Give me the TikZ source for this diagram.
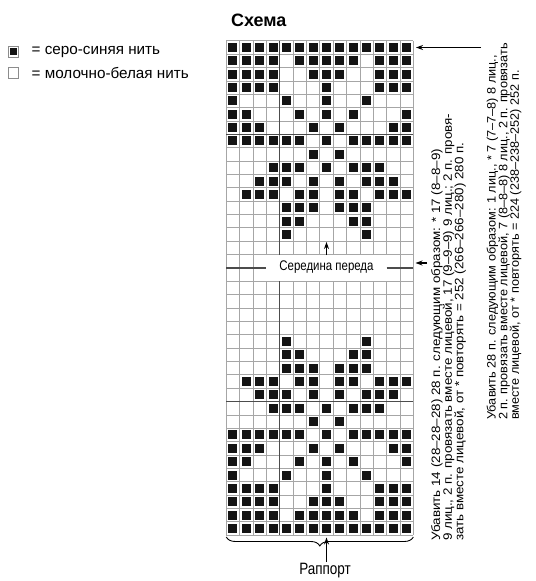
\documentclass[tikz,border=0pt]{standalone}
\usepackage{fontspec}
\setmainfont{Liberation Sans}
\newfontfamily\condfont[FakeStretch=0.82]{Liberation Sans}
\newfontfamily\notefont[FakeStretch=1.1]{Liberation Sans}
\newfontfamily\notefontb[FakeStretch=1.045]{Liberation Sans}
\usetikzlibrary{decorations.pathreplacing,arrows.meta,calc}
\tikzset{
  gridline/.style={draw=black!35, line width=0.7},
  thickline/.style={draw=black!70, line width=1.4},
  stitch/.style={fill=black!92},
  pointer/.style={line width=1.1, -{Stealth[length=7,width=5]}},
  rottext/.style={rotate=90, anchor=north west, inner sep=0, align=left,
     font=\notefont\fontsize{12.2}{11.7}\selectfont},
  rottextb/.style={rottext, font=\notefontb\fontsize{12.2}{11.7}\selectfont},
}
\begin{document}
\begin{tikzpicture}[x=1bp,y=-1bp]
\useasboundingbox (0,0) rectangle (536,581);
\def\gx{226.3}\def\gy{40.8}\def\cs{13.36}
% stitches
\foreach \r/\cl in {
 1/{1,2,3,4,5,6,7,8,9,10,11,12,13,14},
 2/{1,2,3,4,6,7,8,9,10,12,13,14},
 3/{1,2,3,4,7,8,9,12,13,14},
 4/{1,2,3,4,8,12,13,14},
 5/{1,5,8,11},
 6/{1,2,6,8,10,14},
 7/{1,2,3,7,9,13,14},
 8/{1,2,3,4,5,6,8,10,11,12,13,14},
 9/{7,9},
 10/{4,5,6,8,10,11,12},
 11/{3,4,5,7,9,11,12,13},
 12/{2,3,4,6,7,9,10,12,13,14},
 13/{5,6,7,9,10,11},
 14/{5,6,10,11},
 15/{5,11},
 23/{5,11},
 24/{5,6,10,11},
 25/{5,6,7,9,10,11},
 26/{2,3,4,6,7,9,10,12,13,14},
 27/{3,4,5,7,9,11,12,13},
 28/{4,5,6,8,10,11,12},
 29/{7,9},
 30/{1,2,3,4,5,6,8,10,11,12,13,14},
 31/{1,2,3,7,9,13,14},
 32/{1,2,6,8,10,14},
 33/{1,5,8,11},
 34/{1,2,3,4,8,12,13,14},
 35/{1,2,3,4,7,8,9,12,13,14},
 36/{1,2,3,4,6,7,8,9,10,12,13,14},
 37/{1,2,3,4,5,6,7,8,9,10,11,12,13,14}}{
  \foreach \c in \cl {
    \fill[stitch] ({\gx+(\c-0.5)*\cs-4.5},{\gy+(\r-0.5)*\cs-4.5}) rectangle ++(9,9);
  }
}
% grid
\foreach \i in {0,...,14} \draw[gridline] ({\gx+\i*\cs},\gy) -- ++(0,{37*\cs});
\foreach \j in {0,...,37} \draw[gridline] (\gx,{\gy+\j*\cs}) -- ++({14*\cs},0);
% label box
\fill[white] ({\gx+3*\cs},{\gy+16*\cs}) rectangle ({\gx+12*\cs},{\gy+18*\cs});
% thick lines
\draw[thickline] ({\gx+4*\cs},\gy) -- ({\gx+4*\cs},{\gy+16*\cs});
\draw[thickline] ({\gx+4*\cs},{\gy+18*\cs}) -- ({\gx+4*\cs},{\gy+37*\cs});
\draw[thickline] (\gx,{\gy+7*\cs}) -- ++({14*\cs},0);
\draw[thickline] (\gx,{\gy+27*\cs}) -- ++({14*\cs},0);
\draw[thickline] (\gx,{\gy+17*\cs}) -- ({\gx+3*\cs},{\gy+17*\cs});
\draw[thickline] ({\gx+12*\cs},{\gy+17*\cs}) -- ({\gx+14*\cs},{\gy+17*\cs});
% middle label
\node[inner sep=0, font=\condfont\fontsize{14}{14}\selectfont] (mid) at (326.5,267.5) {Середина переда};
\coordinate (midtop) at (326.5,255);
\coordinate (midtip) at (326.5,242);
\draw[pointer] (midtop) -- (midtip);
% title and legend
\node[inner sep=0, anchor=base west, font=\bfseries\fontsize{18}{18}\selectfont] (title) at (231,26.5) {Схема};
\node[draw=black!45, line width=0.6, minimum size=10.5, inner sep=0] (key1) at (13.5,52) {};
\fill[stitch] ($(key1.center)+(-3.5,-3.5)$) rectangle ++(7,7);
\node[draw=black!45, line width=0.6, minimum size=10.5, inner sep=0] (key2) at (13.5,73) {};
\node[inner sep=0, anchor=west, font=\fontsize{15.3}{15}\selectfont] (lab1) at (31.5,52) {= серо-синяя нить};
\node[inner sep=0, anchor=west, font=\fontsize{15.3}{15}\selectfont] (lab2) at (31.5,73) {= молочно-белая нить};
% side notes
\node[rottext] (noteA) at (431,541) {Убавить 14 (28–28–28) 28 п. следующим образом: * 17 (8–8–9)\\9 лиц., 2 п. провязать вместе лицевой, 17 (9–9–9) 9 лиц.; 2 п. провя-\\зать вместе лицевой, от * повторять = 252 (266–266–280) 280 п.};
\node[rottextb] (noteB) at (486.5,420) {Убавить 28 п. следующим образом: 1 лиц., * 7 (7–7–8) 8 лиц.,\\2 п. провязать вместе лицевой, 7 (8–8–8) 8 лиц., 2 п. провязать\\вместе лицевой, от * повторять = 224 (238–238–252) 252 п.};
% right arrows
\coordinate (a1tail) at (481,47.5);
\coordinate (a1tip) at (416,47.5);
\draw[pointer] (a1tail) -- (a1tip);
\coordinate (a2tail) at (427,263);
\coordinate (a2tip) at (415.5,263);
\draw[pointer] (a2tail) -- (a2tip);
% brace and rapport
\coordinate (bl) at (\gx,537);
\coordinate (br) at ({\gx+14*\cs},537);
\draw[line width=0.9, decorate, decoration={brace, mirror, amplitude=9}] (bl) -- (br);
\node[inner sep=0, font=\condfont\fontsize{16.5}{16.5}\selectfont] (rap) at (325,571) {Раппорт};
\coordinate (rapfoot) at (326.5,562);
\coordinate (raptip) at (326.5,537.5);
\draw[pointer] (rapfoot) -- (raptip);
\end{tikzpicture}
\end{document}
